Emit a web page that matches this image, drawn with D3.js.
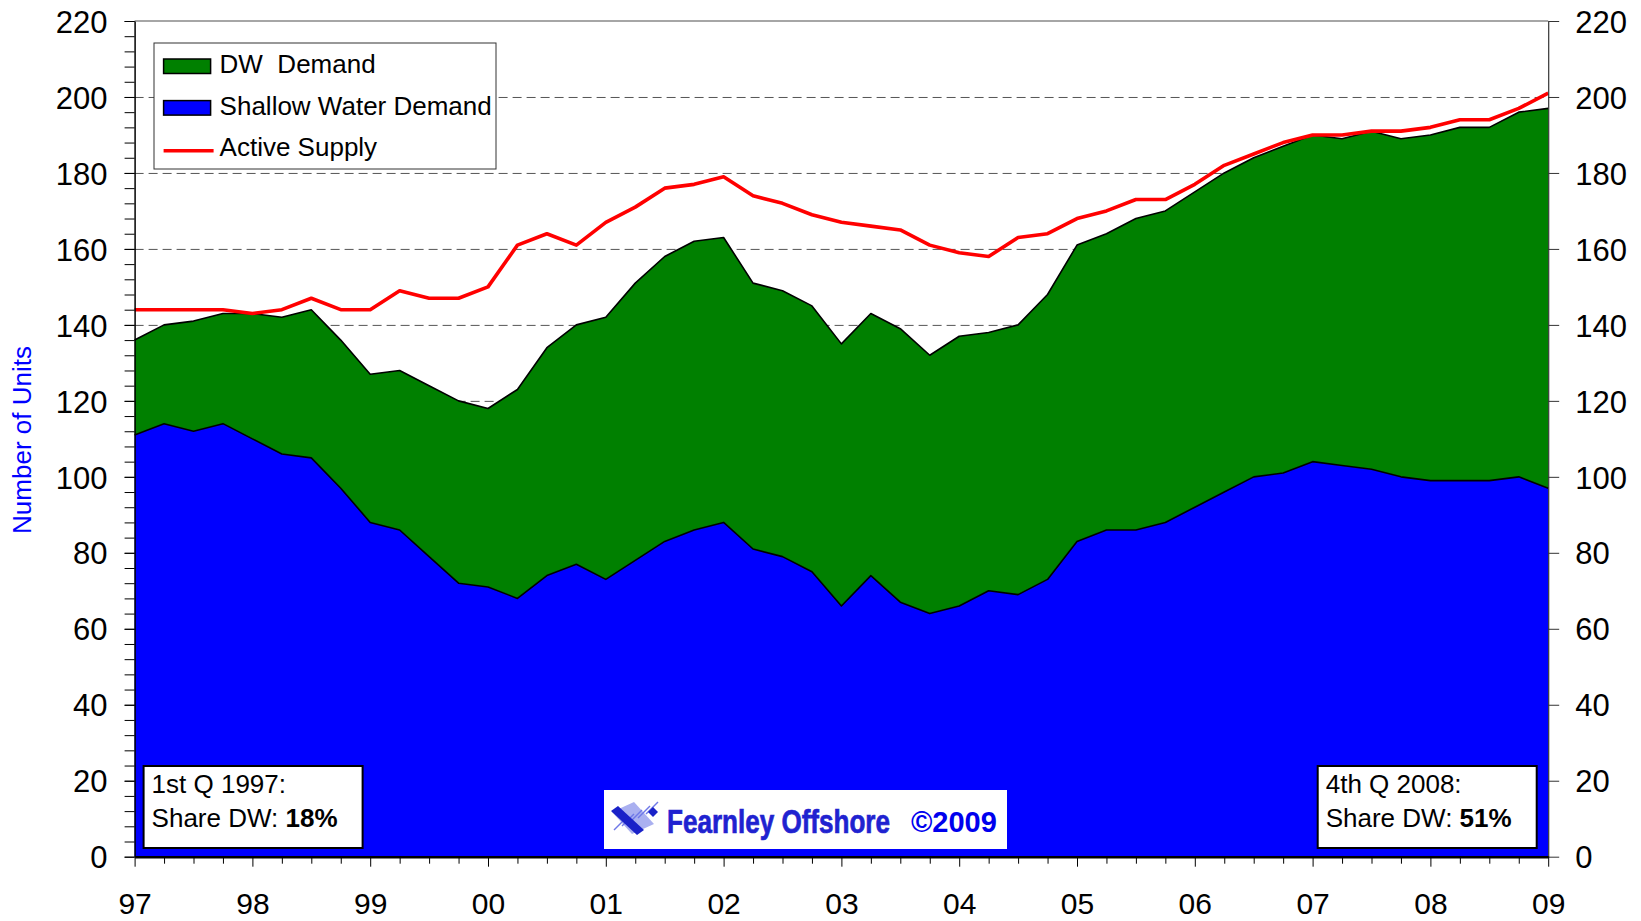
<!DOCTYPE html>
<html>
<head>
<meta charset="utf-8">
<script src="https://cdnjs.cloudflare.com/ajax/libs/d3/7.8.5/d3.min.js"></script>
<style>
	body { margin: 0; background: #fff; }
	svg text { font-family: "Liberation Sans", Arial, sans-serif; }
</style>
</head>
<body>
<div id="area-chart-01"></div>
<script>

// ------------------------ data ------------------------------

var quarters = [
	"97Q1","97Q2","97Q3","97Q4","98Q1","98Q2","98Q3","98Q4",
	"99Q1","99Q2","99Q3","99Q4","00Q1","00Q2","00Q3","00Q4",
	"01Q1","01Q2","01Q3","01Q4","02Q1","02Q2","02Q3","02Q4",
	"03Q1","03Q2","03Q3","03Q4","04Q1","04Q2","04Q3","04Q4",
	"05Q1","05Q2","05Q3","05Q4","06Q1","06Q2","06Q3","06Q4",
	"07Q1","07Q2","07Q3","07Q4","08Q1","08Q2","08Q3","08Q4",
	"09Q1"
];

var shallowWater = [
	111,114,112,114,110,106,105, 97,
	 88, 86, 79, 72, 71, 68, 74, 77,
	 73, 78, 83, 86, 88, 81, 79, 75,
	 66, 74, 67, 64, 66, 70, 69, 73,
	 83, 86, 86, 88, 92, 96,100,101,
	104,103,102,100, 99, 99, 99,100,
	 97
];

var dwDemand = [
	 25, 26, 29, 29, 33, 36, 39, 39,
	 39, 42, 45, 48, 47, 55, 60, 63,
	 69, 73, 75, 76, 75, 70, 70, 70,
	 69, 69, 72, 68, 71, 68, 71, 75,
	 78, 78, 82, 82, 83, 84, 84, 86,
	 86, 86, 89, 89, 91, 93, 93, 96,
	100
];

var activeSupply = [
	144,144,144,144,143,144,147,144,
	144,149,147,147,150,161,164,161,
	167,171,176,177,179,174,172,169,
	167,166,165,161,159,158,163,164,
	168,170,173,173,177,182,185,188,
	190,190,191,191,192,194,194,197,
	201
];

var yearLabels = ["97","98","99","00","01","02","03","04","05","06","07","08","09"];
var yTickValues = [0, 20, 40, 60, 80, 100, 120, 140, 160, 180, 200, 220];

var legendItems = [
	{ label: "DW  Demand", type: "area", colour: "#008000" },
	{ label: "Shallow Water Demand", type: "area", colour: "#0000ff" },
	{ label: "Active Supply", type: "line", colour: "#ff0000" }
];


// ------------------------ #area-chart-01 ------------------------------

var build_areaChart_01 = function() {

	// set the dimensions and margins of the graph
	var margin = { top: 21, right: 1641 - 1548.2, bottom: 921 - 856.7, left: 134.6 },
		width = 1641 - margin.left - margin.right,
		height = 921 - margin.top - margin.bottom;

	// set the ranges
	var x = d3.scalePoint()
				.domain(quarters)
				.range([0, width]);
	var y = d3.scaleLinear()
				.domain([0, 220])
				.range([height, 0]);

	var table = quarters.map(function(q, i) {
		return { quarter: q, shallow: shallowWater[i], dw: dwDemand[i], supply: activeSupply[i] };
	});
	var stacked = d3.stack().keys(["shallow", "dw"])(table);
	var fills = { shallow: "#0000ff", dw: "#008000" };

	var svgRoot = d3.select("#area-chart-01").append("svg")
			.attr("width", 1641)
			.attr("height", 921)
			.attr("viewBox", "0 0 1641 921");
	var svg = svgRoot.append("g")
			.attr("transform", "translate(" + margin.left + "," + margin.top + ")");

	// dashed grid lines behind the areas
	var grid = svg.append("g")
			.call(d3.axisLeft(y).tickValues(yTickValues.filter(function(v) { return v > 0 && v < 220; }))
				.tickSize(-width).tickFormat(""));
	grid.select(".domain").remove();
	grid.selectAll(".tick line").attr("stroke", "#555").attr("stroke-dasharray", "9,5");

	// stacked areas
	var area = d3.area()
			.x(function(d) { return x(d.data.quarter); })
			.y0(function(d) { return y(d[0]); })
			.y1(function(d) { return y(d[1]); });
	var topLine = d3.line()
			.x(function(d) { return x(d.data.quarter); })
			.y(function(d) { return y(d[1]); });

	svg.append("g").selectAll(".layer")
			.data(stacked)
			.enter().append("path")
				.attr("class", "layer")
				.attr("fill", function(d) { return fills[d.key]; })
				.attr("d", area);
	svg.append("g").selectAll(".layer-edge")
			.data(stacked)
			.enter().append("path")
				.attr("class", "layer-edge")
				.attr("fill", "none")
				.attr("stroke", "#000")
				.attr("stroke-width", 1.6)
				.attr("stroke-linejoin", "round")
				.attr("d", topLine);

	// active supply line
	svg.append("path")
			.datum(table)
			.attr("fill", "none")
			.attr("stroke", "#ff0000")
			.attr("stroke-width", 3.6)
			.attr("stroke-linejoin", "round")
			.attr("d", d3.line()
				.x(function(d) { return x(d.quarter); })
				.y(function(d) { return y(d.supply); }));

	// frame top
	svg.append("line")
			.attr("x1", 0).attr("x2", width)
			.attr("y1", 0).attr("y2", 0)
			.attr("stroke", "#888").attr("stroke-width", 1.5);

	// left axis: minor ticks, then labelled ticks
	var axisYMinor = svg.append("g")
			.call(d3.axisLeft(y).tickValues(d3.range(0, 221, 4)).tickSize(10).tickFormat(""));
	axisYMinor.select(".domain").remove();
	axisYMinor.selectAll(".tick line").attr("stroke", "#000");

	var axisY = svg.append("g")
			.call(d3.axisLeft(y).tickValues(yTickValues).tickSize(10).tickSizeOuter(0).tickPadding(17));
	axisY.select(".domain").attr("stroke", "#000").attr("stroke-width", 1.5);
	axisY.selectAll("text").attr("font-size", 31).attr("fill", "#000").attr("dy", "0.36em");

	// right axis
	var axisYRight = svg.append("g")
			.attr("transform", "translate(" + width + ",0)")
			.call(d3.axisRight(y).tickValues(yTickValues).tickSize(11).tickSizeOuter(0).tickPadding(16));
	axisYRight.select(".domain").attr("stroke", "#333").attr("stroke-width", 1.2);
	axisYRight.selectAll(".tick line").attr("stroke", "#333");
	axisYRight.selectAll("text").attr("font-size", 31).attr("fill", "#000").attr("dy", "0.36em");

	// x axis
	var axisX = svg.append("g")
			.attr("transform", "translate(0," + height + ")")
			.call(d3.axisBottom(x).tickValues(quarters).tickSize(10).tickSizeOuter(0)
				.tickFormat(function(q, i) { return i % 4 === 0 ? yearLabels[i / 4] : ""; }));
	axisX.select(".domain").attr("stroke", "#000").attr("stroke-width", 2.5);
	axisX.selectAll(".tick line")
			.attr("stroke", "#000")
			.attr("y2", function(q, i) { return i % 4 === 0 ? 10 : 7; });
	axisX.selectAll("text").attr("font-size", 30).attr("fill", "#000").attr("y", 36).attr("dy", "0.71em");

	// y axis title
	svgRoot.append("text")
			.attr("transform", "translate(31,440) rotate(-90)")
			.attr("text-anchor", "middle")
			.attr("font-size", 26)
			.attr("fill", "#0000ff")
			.text("Number of Units");

	// legend
	var legend = svgRoot.append("g").attr("transform", "translate(154,43)");
	legend.append("rect")
			.attr("width", 342).attr("height", 126)
			.attr("fill", "#fff").attr("stroke", "#333").attr("stroke-width", 1);
	var legendRow = legend.selectAll(".legend-row")
			.data(legendItems)
			.enter().append("g")
			.attr("class", "legend-row")
			.attr("transform", function(d, i) { return "translate(0," + (i * 41.6) + ")"; });
	legendRow.filter(function(d) { return d.type === "area"; }).append("rect")
			.attr("x", 9.6).attr("y", 16).attr("width", 47).attr("height", 14.5)
			.attr("fill", function(d) { return d.colour; })
			.attr("stroke", "#000").attr("stroke-width", 1.5);
	legendRow.filter(function(d) { return d.type === "line"; }).append("line")
			.attr("x1", 9.6).attr("x2", 59.6).attr("y1", 24.6).attr("y2", 24.6)
			.attr("stroke", function(d) { return d.colour; }).attr("stroke-width", 3.6);
	legendRow.append("text")
			.attr("x", 65.6).attr("y", 30)
			.attr("font-size", 26)
			.attr("fill", "#000")
			.attr("xml:space", "preserve")
			.text(function(d) { return d.label; });

	// share annotation boxes
	var notes = [
		{ x: 143.6, line1: "1st Q 1997:", share: dwDemand[0] / (dwDemand[0] + shallowWater[0]) },
		{ x: 1317.7, line1: "4th Q 2008:", share: dwDemand[48] / (dwDemand[48] + shallowWater[48]) }
	];
	var note = svgRoot.selectAll(".note")
			.data(notes)
			.enter().append("g")
			.attr("class", "note")
			.attr("transform", function(d) { return "translate(" + d.x + ",766)"; });
	note.append("rect")
			.attr("width", 219).attr("height", 82)
			.attr("fill", "#fff").attr("stroke", "#000").attr("stroke-width", 2);
	note.append("text")
			.attr("x", 8).attr("y", 26.5)
			.attr("font-size", 26).attr("fill", "#000")
			.text(function(d) { return d.line1; });
	var shareText = note.append("text")
			.attr("x", 8).attr("y", 61)
			.attr("font-size", 26).attr("fill", "#000");
	shareText.append("tspan").text("Share DW: ");
	shareText.append("tspan").attr("font-weight", "bold")
			.text(function(d) { return d3.format(".0%")(d.share); });

	// logo
	var logo = svgRoot.append("g").attr("transform", "translate(604,790)");
	logo.append("rect").attr("width", 403).attr("height", 59).attr("fill", "#fff");
	logo.append("path")
			.attr("d", "M8,22 L30,12 L50,34 L28,44 Z")
			.attr("fill", "#aab0f0");
	logo.append("g").selectAll("line")
			.data([0, 1, 2, 3, 4])
			.enter().append("line")
				.attr("x1", function(d) { return 10 + d * 8; }).attr("y1", function(d) { return 40 - d * 4; })
				.attr("x2", function(d) { return 22 + d * 8; }).attr("y2", function(d) { return 28 - d * 4; })
				.attr("stroke", "#6f78e8").attr("stroke-width", 1.5);
	logo.append("path")
			.attr("d", "M7,21 L14,16 L40,40 L33,45 Z")
			.attr("fill", "#1a22c8");
	logo.append("path")
			.attr("d", "M44,22 L49,17 L54,22 L49,27 Z")
			.attr("fill", "#1a22c8");
	// condensed logotype, squeezed horizontally
	logo.append("text")
			.attr("transform", "translate(63,43) scale(0.79,1)")
			.attr("font-family", "'Liberation Sans', Arial, sans-serif")
			.attr("font-weight", "bold")
			.attr("font-size", 33)
			.attr("fill", "#1f22d0")
			.attr("stroke", "#1f22d0")
			.attr("stroke-width", 0.7)
			.text("Fearnley Offshore");
	logo.append("text")
			.attr("x", 307).attr("y", 42)
			.attr("font-family", "'Liberation Serif', 'Times New Roman', serif")
			.attr("font-weight", "bold")
			.attr("font-size", 29)
			.attr("fill", "#0000ee")
			.text("\u00a92009");

}

build_areaChart_01();

</script>
</body>
</html>
